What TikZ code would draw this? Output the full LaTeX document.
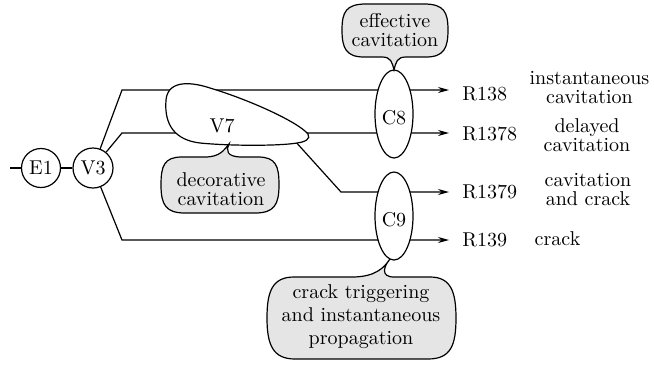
\documentclass[tikz,border=0pt]{standalone}
\usetikzlibrary{shapes.geometric,arrows.meta,backgrounds}
\begin{document}
\begin{tikzpicture}[x=0.5pt,y=-0.5pt,
  every node/.style={font=\fontsize{10}{9.4}\selectfont},
  ln/.style={line width=0.6pt},
  circ/.style={draw,circle,minimum size=19.5pt,inner sep=0pt,fill=white,line width=0.6pt},
  ell/.style={draw,ellipse,minimum width=19pt,minimum height=44pt,inner sep=0pt,fill=white,line width=0.6pt,text height=10.8pt},
  lbl/.style={inner sep=0pt,align=center},
  callout/.style={draw,fill=black!10,line width=0.6pt},
  blob/.style={draw,fill=white,line width=0.6pt},
  arr/.style={-{Stealth[length=5.5pt,width=3pt]}}
]
\useasboundingbox (0,0) rectangle (654,365);

% main nodes
\node[circ] (E1) at (41,168) {E1};
\node[circ,minimum size=20pt] (V3) at (93,168) {V3};
\node[ell] (C8) at (394,114) {C8};
\node[ell] (C9) at (394,216) {C9};

% coordinates
\coordinate (s0) at (10,168);
\coordinate (k1) at (122,90);
\coordinate (k2) at (122,133);
\coordinate (k3) at (122,240);
\coordinate (k4) at (341,192);
\coordinate (v7s) at (285,130);
\coordinate (e1) at (449,90);
\coordinate (e2) at (449,133);
\coordinate (e3) at (449,192);
\coordinate (e4) at (449,240);

% result labels
\node[lbl,anchor=base west] (R138) at (462,100) {R138};
\node[lbl,anchor=base west] (R1378) at (462,140) {R1378};
\node[lbl,anchor=base west] (R1379) at (462,198.3) {R1379};
\node[lbl,anchor=base west] (R139) at (462,246.7) {R139};

\node[lbl] (L1) at (589.5,87.5) {instantaneous\\cavitation};
\node[lbl] (L2) at (587,135.5) {delayed\\cavitation};
\node[lbl] (L3) at (588,189.7) {cavitation\\and crack};
\node[lbl,anchor=base] (L4) at (557.5,245) {crack};

% V7 blob
\draw[blob] (308,134) .. controls (298,122) and (250,100) .. (210,88)
  .. controls (195,83) and (168,78) .. (166,100)
  .. controls (164,125) and (175,140) .. (200,143)
  .. controls (230,146) and (280,146) .. (297,143)
  .. controls (305,142) and (311,139) .. (308,134) -- cycle;
\node[lbl] (V7) at (222,126) {V7};

% callouts
\draw[callout] (394,70) .. controls (392,62) and (391,57) .. (382,57) -- (364,57)
  .. controls (346,57) and (342,48) .. (342,30)
  .. controls (342,12) and (346,4) .. (366,4) -- (424,4)
  .. controls (444,4) and (448,12) .. (448,30)
  .. controls (448,48) and (444,57) .. (426,57) -- (406,57)
  .. controls (397,57) and (396,62) .. (394,70) -- cycle;
\node[lbl] (tA) at (395,30) {effective\\cavitation};

\draw[callout] (229,144) .. controls (226,150) and (226,157) .. (242,157) -- (258,157)
  .. controls (276,157) and (279,166) .. (279,185)
  .. controls (279,205) and (274,213) .. (255,213) -- (185,213)
  .. controls (166,213) and (161,205) .. (161,185)
  .. controls (161,166) and (164,157) .. (182,157) -- (205,157)
  .. controls (220,157) and (224,150) .. (229,144) -- cycle;
\node[lbl] (tB) at (221,189) {decorative\\cavitation};

\draw[callout] (390,259) .. controls (384,266) and (380,277) .. (394,277) -- (430,277)
  .. controls (451,277) and (456,292) .. (456,318)
  .. controls (456,345) and (451,359) .. (428,359) -- (295,359)
  .. controls (273,359) and (267,345) .. (267,318)
  .. controls (267,292) and (272,277) .. (294,277) -- (352,277)
  .. controls (375,277) and (384,268) .. (390,259) -- cycle;
\node[lbl,font=\fontsize{10}{11.4}\selectfont] (tC) at (361,316.5) {crack triggering\\and instantaneous\\propagation};

% connectors
\begin{pgfonlayer}{background}
\draw[ln] (s0) -- (E1);
\draw[ln] (E1) -- (V3);
\draw[ln,arr] (V3) -- (k1) -- (e1);
\draw[ln,arr] (V3) -- (k2) -- (e2);
\draw[ln,arr] (V3) -- (k3) -- (e4);
\draw[ln,arr] (v7s) -- (k4) -- (e3);
\end{pgfonlayer}
\end{tikzpicture}
\end{document}
